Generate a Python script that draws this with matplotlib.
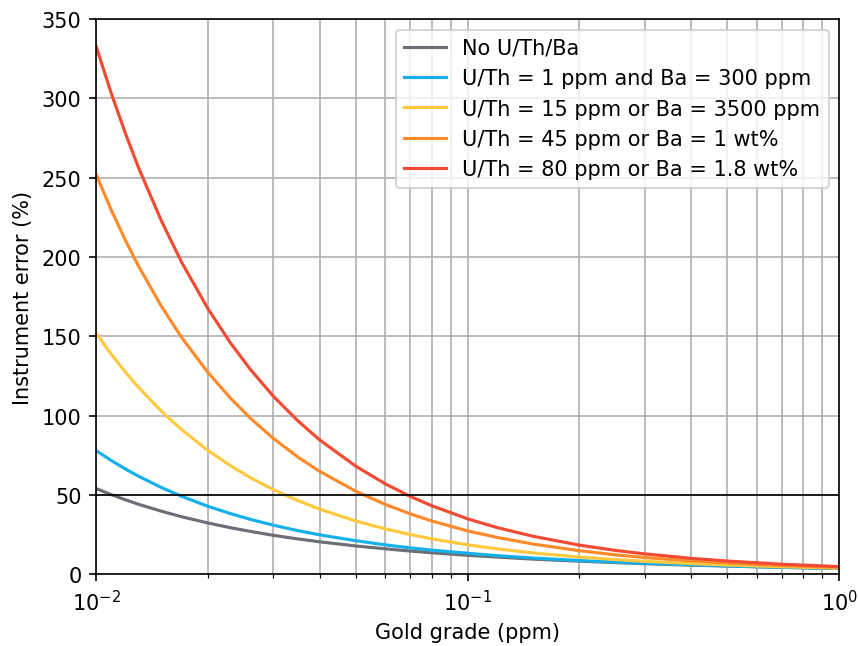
import numpy as np
import matplotlib
matplotlib.use("Agg")
import matplotlib.pyplot as plt

grade = [0.010, 0.011, 0.012, 0.013, 0.015, 0.017, 0.02, 0.023, 0.026, 0.03,
         0.035, 0.04, 0.05, 0.06, 0.07, 0.08, 0.1, 0.12, 0.15, 0.2,
         0.25, 0.3, 0.4, 0.5, 0.7, 1.0]

# instrument error (%) for each interference level
err_none = [54.0, 50.1, 46.9, 44.1, 39.7, 36.2, 32.3, 29.3, 27.0, 24.5,
            22.2, 20.4, 17.8, 16.0, 14.6, 13.5, 11.9, 10.8, 9.5, 8.2,
            7.3, 6.6, 5.7, 5.1, 4.3, 3.6]
err_low = [78.0, 71.6, 66.3, 61.8, 54.6, 49.1, 42.8, 38.2, 34.6, 30.9,
           27.4, 24.8, 21.1, 18.5, 16.6, 15.2, 13.2, 11.7, 10.2, 8.6,
           7.6, 6.9, 5.9, 5.2, 4.3, 3.6]
err_15 = [152.0, 138.5, 127.3, 117.9, 102.7, 91.1, 78.0, 68.4, 60.9, 53.3,
          46.3, 41.0, 33.5, 28.6, 25.0, 22.3, 18.5, 16.0, 13.4, 10.8,
          9.2, 8.1, 6.7, 5.8, 4.7, 3.8]
err_45 = [252.0, 229.3, 210.4, 194.4, 168.8, 149.2, 127.2, 111.0, 98.4, 85.6,
          73.7, 64.8, 52.3, 44.0, 38.1, 33.6, 27.3, 23.2, 19.0, 14.8,
          12.2, 10.5, 8.4, 7.1, 5.5, 4.3]
err_80 = [332.9, 302.8, 277.8, 256.5, 222.6, 196.6, 167.4, 145.8, 129.2, 112.2,
          96.5, 84.6, 68.1, 57.0, 49.1, 43.2, 34.9, 29.4, 23.9, 18.3,
          15.0, 12.8, 10.0, 8.3, 6.3, 4.8]

labels = ['No U/Th/Ba', 'U/Th = 1 ppm and Ba = 300 ppm',
          'U/Th = 15 ppm or Ba = 3500 ppm', 'U/Th = 45 ppm or Ba = 1 wt%',
          'U/Th = 80 ppm or Ba = 1.8 wt%']
colors = ['#6b6e75', '#14b0ec', '#ffc83d', '#ff8a2a', '#f24a33']

fig = plt.figure(figsize=(5.72, 4.313), dpi=150)
ax = fig.add_subplot(111)
fig.subplots_adjust(left=0.112, right=0.978, top=0.969, bottom=0.111)

for series, lab, col in zip([err_none, err_low, err_15, err_45, err_80], labels, colors):
    ax.plot(grade, series, color=col, label=lab)

ax.axhline(50, color='black', linewidth=0.8)

ax.set_xscale('log')
ax.set_xlim(0.01, 1)
ax.set_ylim(0, 350)
ax.grid(True, which='both', axis='x')
ax.grid(True, which='major', axis='y')
ax.set_xlabel('Gold grade (ppm)')
ax.set_ylabel('Instrument error (%)')
ax.legend(loc='upper right')

fig.savefig('out.png', dpi=150)
